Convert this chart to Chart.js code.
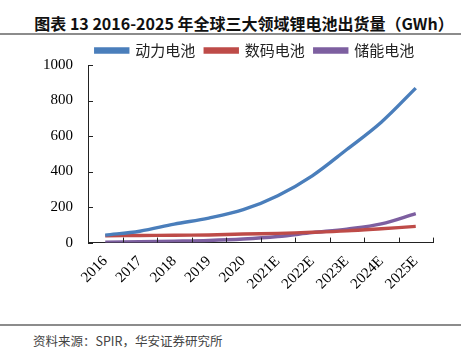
<!DOCTYPE html>
<html>
<head>
<meta charset="utf-8">
<script src="https://cdn.jsdelivr.net/npm/chart.js@4"></script>
<style>
  body { margin: 0; background: #fff; }
  #wrap { position: relative; width: 468px; height: 354px; overflow: hidden; }
  #title { position: absolute; left: 0; top: 11px; width: 488px; text-align: center;
    font: bold 16px "Noto Sans CJK SC", sans-serif; color: #111; white-space: nowrap; }
  .rule { position: absolute; left: 0; width: 461px; height: 2px; background: #8c8c8c; }
  #src { position: absolute; left: 33px; top: 331px; font: 12.5px "Noto Sans CJK SC", sans-serif; color: #444; }
  #chartBox { position: absolute; left: 0; top: 30px; width: 468px; height: 265px; }
</style>
</head>
<body>
<div id="wrap">
  <div id="title">图表 13 2016-2025 年全球三大领域锂电池出货量（GWh）</div>
  <div class="rule" style="top:33px"></div>
  <div id="chartBox"><canvas id="myChart"></canvas></div>
  <div class="rule" style="top:324px"></div>
  <div id="src">资料来源：SPIR，华安证券研究所</div>
</div>
<script>
// x categories
const labels = ["2016", "2017", "2018", "2019", "2020", "2021E", "2022E", "2023E", "2024E", "2025E"];
// shipments, GWh
const powerBattery = [42, 64, 104, 138, 185, 264, 376, 524, 678, 870];
const digitalBattery = [38, 40, 41, 43, 48, 52, 58, 66, 78, 91];
const storageBattery = [2, 5, 8, 12, 20, 34, 56, 76, 105, 163];
const yTicks = [0, 200, 400, 600, 800, 1000];

// little inward tick marks like the excel original
var innerTicks = {
  id: "innerTicks",
  afterInit(chart) {
    // nudge the legend down a little
    var lg = chart.legend;
    var orig = lg.draw;
    lg.draw = function () {
      chart.ctx.save();
      chart.ctx.translate(0, 3);
      orig.apply(lg, arguments);
      chart.ctx.restore();
    };
  },
  beforeDraw(chart) {
    // legend sits centred a bit right of the canvas, as in the original
    chart.legend.left = 77;
  },
  afterDraw(chart) {
    var ctx = chart.ctx;
    var x = chart.scales.x, y = chart.scales.y;
    ctx.save();
    ctx.strokeStyle = "#222";
    ctx.lineWidth = 1;
    ctx.beginPath();
    for (var i = 0; i < labels.length; i++) {
      var b = i < labels.length - 1 ? (x.getPixelForValue(i) + x.getPixelForValue(i + 1)) / 2 : x.right;
      b = Math.round(b) + 0.5;
      ctx.moveTo(b, x.top);
      ctx.lineTo(b, x.top - 5);
    }
    yTicks.forEach(v => {
      var p = Math.round(y.getPixelForValue(v)) + 0.5;
      ctx.moveTo(y.right, p);
      ctx.lineTo(y.right + 5, p);
    });
    ctx.stroke();
    ctx.restore();
  }
};

var data = {
  labels: labels,
  datasets: [{
    label: "动力电池",
    data: powerBattery,
    borderColor: "#4a7ebb",
    backgroundColor: "#4a7ebb"
  }, {
    label: "数码电池",
    data: digitalBattery,
    borderColor: "#be4b48",
    backgroundColor: "#be4b48"
  }, {
    label: "储能电池",
    data: storageBattery,
    borderColor: "#7d5fa0",
    backgroundColor: "#7d5fa0"
  }]
};

var config = {
  type: "line",
  data: data,
  options: {
    responsive: true,
    maintainAspectRatio: false,
    animation: false,
    layout: { padding: { left: 0, right: 35, top: 0, bottom: 0 } },
    elements: {
      line: { borderWidth: 3.4, tension: 0.35 },
      point: { radius: 0 }
    },
    plugins: {
      tooltip: { enabled: false },
      legend: {
        labels: {
          boxWidth: 32,
          boxHeight: 3,
          padding: 10,
          color: "#222",
          font: { family: "'Noto Sans CJK SC'", size: 15 }
        }
      }
    },
    scales: {
      x: {
        offset: true,
        grid: { display: false },
        border: { display: true, color: "#222", width: 1 },
        ticks: {
          maxRotation: 45,
          minRotation: 45,
          padding: 2,
          color: "#000",
          font: { family: "'Liberation Serif'", size: 15 }
        }
      },
      y: {
        min: 0,
        max: 1000,
        afterFit: s => { s.width = 88; },
        afterBuildTicks: s => { s.ticks = yTicks.map(v => ({ value: v })); },
        grid: { display: false },
        border: { display: true, color: "#222", width: 1 },
        ticks: {
          padding: 7,
          color: "#000",
          font: { family: "'Liberation Serif'", size: 15 },
          callback: v => String(v)
        }
      }
    }
  },
  plugins: [innerTicks]
};

var myChart = new Chart(document.getElementById("myChart"), config);
</script>
</body>
</html>
